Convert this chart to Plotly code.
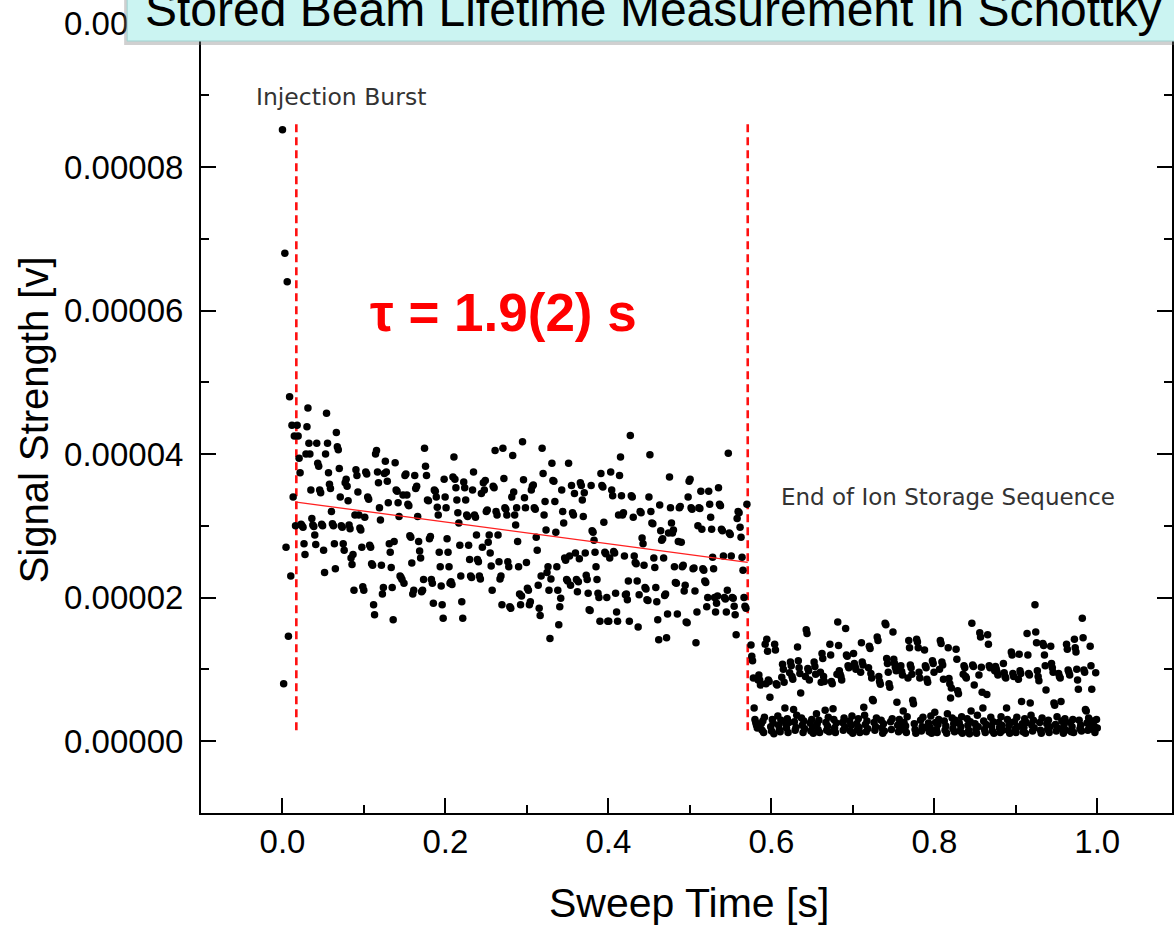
import numpy as np
import plotly.graph_objects as go

# ---------------- data (signal values in microvolts) -------------
burst_uV = [85.2, 8.0, 68.0, 27.0, 64.0, 14.6, 48.0, 23.0, 44.0, 34.0, 42.5, 30.0]

stored_uV = [
    44, 42.5, 39.4, 37.4, 30.2, 30, 29.8, 27.5, 26, 40,
    43.8, 46.4, 41.5, 40, 35, 31, 30.1, 29.9, 28.7, 27.4,
    41.5, 38.7, 38.3, 35, 34.6, 30.2, 30, 26.6, 23.5, 40,
    45.7, 41.5, 37.4, 35.8, 35.2, 32, 30.3, 30, 27.5, 24,
    43, 41, 40.6, 38, 34, 30, 29.8, 27.5, 26.6, 36,
    36.5, 35.5, 33.5, 30.1, 29.6, 25.5, 24.6, 26, 21, 31.5,
    37.8, 37, 34.7, 31.5, 29.7, 29.4, 27, 21.5, 21, 31.2,
    37.5, 37.2, 34, 33.7, 27.3, 27, 24.7, 24.5, 19, 17.6,
    40, 40.5, 37.5, 36, 32.5, 30.8, 24.5, 20.5, 21.4, 37.3,
    39, 37.5, 36.2, 33.2, 27.5, 26.3, 24.2, 21.4, 16.9, 27.8,
    38.8, 35, 34.8, 33.2, 31.3, 23, 22.8, 22.5, 34.3, 22,
    37, 37.2, 34.3, 33, 32.8, 28.6, 28.4, 24.8, 20.5, 21,
    37, 35.2, 35.5, 31.3, 27.8, 26.5, 25.5, 20.8, 21, 22.5,
    40.8, 38.3, 37, 33.6, 33.5, 28.2, 28.5, 22.5, 22, 19.2,
    35, 34.8, 34, 32.6, 31.5, 26.3, 24.3, 21.6, 19, 17.1,
    36.5, 34, 32.5, 28.2, 26.3, 24.3, 22, 22.2, 21.8, 36.8,
    39.6, 36.5, 35.3, 33.6, 31.8, 30.4, 27.3, 23, 19.4, 17.1,
    36.1, 35.3, 33.6, 31.5, 31.3, 27.3, 25.3, 23, 22.8, 35,
    37.5, 31.5, 31.2, 28.7, 25.3, 25, 23, 22.6, 34.5, 27,
    36, 35, 36.3, 32, 32.2, 27.7, 28.7, 26.2, 24.4, 21,
    35.5, 35.3, 40.5, 32, 31.5, 28.7, 25, 22.6, 23, 19,
    40.8, 36.6, 32.5, 32.3, 31.5, 25, 24.3, 18.7, 18.5, 34,
    39.8, 34.7, 31.5, 30.1, 32.5, 27.8, 24.3, 20.5, 19, 20.2,
    41.7, 36.4, 33.9, 32.5, 24.9, 21.3, 21, 19, 19.4, 35,
    35.5, 35.7, 32.5, 32.3, 28.4, 26.6, 21.7, 18.5, 17.5, 23,
    40.8, 37.3, 31.5, 33.4, 29.4, 23.5, 24.3, 21, 14.3, 22.6,
    38.7, 36.3, 36.2, 33.4, 29.1, 24.3, 21, 16.2, 18.7, 19.9,
    35, 32, 30.4, 25.5, 25.2, 22.5, 22.3, 38.7, 25.8, 21.7,
    35.6, 31.8, 31.5, 34.5, 26.2, 22.5, 20.8, 22.2, 25.4, 36,
    35.6, 33.6, 31.3, 34.6, 26.2, 23.1, 22.5, 20.6, 18.3, 18.2,
    35.6, 29.3, 29.1, 28, 26.3, 24.3, 22.5, 20.6, 20, 16.7,
    37.3, 35.6, 35.4, 30.5, 26.3, 26.1, 20, 16.7, 16.7, 25.5,
    37.5, 35, 34.2, 26.4, 26.2, 20.6, 18, 16.7, 31.5, 37,
    39.6, 34.2, 31.5, 31.8, 25.8, 20.4, 20.5, 19.7, 22.3, 16.7,
    42.6, 34.2, 34, 31.2, 25.8, 24.9, 24.7, 22.3, 15.9, 20.4,
    32, 31.8, 28.3, 27.5, 24.5, 21.4, 21.2, 19.7, 19.6, 34,
    39.9, 32, 30.4, 30.3, 25.5, 24.2, 21.4, 19.4, 16.9, 14.1,
    32.9, 29.3, 28, 28.2, 25.5, 20.3, 20.5, 14.4, 17.7, 29,
    36.8, 32.5, 30.4, 29, 29.4, 24.3, 22.1, 22, 17.7, 27.8,
    32.5, 32.7, 27.7, 24.3, 24.5, 20.9, 21.7, 16.6, 16.5, 34,
    36.2, 36.5, 32.5, 32.3, 24, 24.1, 20.9, 13.7, 18, 30,
    32.5, 32.4, 34.8, 29.5, 24, 23.8, 22.3, 22.1, 18.7, 20,
    34.8, 33, 31.2, 29.5, 25.6, 24, 20, 18, 19.2, 20.2,
    35.3, 33, 32.8, 29.5, 29.3, 25.8, 20, 19.8, 18, 21,
    40.1, 29, 28.8, 25.8, 20, 19.9, 18.8, 17.6, 14.8, 31,
    32, 31.8, 29.8, 28.4, 25.6, 23.8, 20, 18.8, 18.5, 33,
]

after_uV = [
    13.4, 11.8, 11.2, 8.8, 4.6, 3, 2.6, 2.2, 1.8, 8.5,
    9.2, 8.5, 7.8, 2.4, 1.5, 2.8, 1.2, 3.3, 13.5, 8,
    14.2, 12.5, 8.5, 8.3, 6.1, 2, 1.4, 3, 2.5, 1,
    13.5, 12.7, 8, 7.8, 3.5, 2.2, 1.6, 1.3, 2.9, 8.9,
    10.7, 10, 8.2, 4.6, 2.4, 1.8, 3.1, 1.2, 2.6, 9.5,
    11, 10.5, 9, 8.6, 4.4, 2.7, 1.5, 1.9, 3.6, 13.1,
    11.2, 10.2, 9.4, 6.7, 3.2, 2.2, 1.2, 2.8, 1.7, 9,
    15.5, 15, 10.1, 9.8, 8.5, 2.5, 1.4, 3, 2, 1.1,
    11, 10.4, 9.3, 3.8, 2.4, 1.6, 2.9, 1.2, 9.6, 8.2,
    12.2, 11.5, 9, 8.3, 4.3, 2.6, 1.5, 2.1, 3.3, 1.3,
    13.5, 12, 8.3, 8, 4.5, 3, 1.8, 1.2, 2.5, 9.3,
    16.6, 13.3, 9.8, 9.3, 9, 8.5, 2.6, 1.5, 3.2, 2,
    15.7, 12, 11.8, 10.5, 10.2, 2.8, 1.4, 2.2, 3.5, 1.1,
    12.2, 10.8, 10.4, 10, 2.4, 1.6, 3.1, 1.9, 1.2, 9.6,
    13.7, 11, 10.6, 4.7, 3.6, 2.3, 1.3, 2.8, 1.7, 10.2,
    13.2, 12.9, 9.4, 8.8, 5.8, 5.6, 2.6, 1.5, 2, 3.2,
    14.5, 14, 9, 8.3, 7.9, 2.9, 1.8, 1.1, 2.4, 1.4,
    16.4, 16.2, 11.5, 10.8, 9.6, 8, 7.5, 2.7, 1.6, 3.1,
    15.2, 11.4, 10.8, 10.3, 9.8, 5.4, 2.2, 1.3, 3, 1.8,
    10.5, 9.7, 9.2, 4.2, 2.6, 1.5, 2.1, 1.2, 3.4, 8.8,
    14, 13, 10.6, 10.2, 9.3, 5.7, 5.2, 2.4, 1.6, 1.1,
    14.2, 13.8, 13, 9.6, 8.8, 2.9, 1.4, 2, 3.3, 1.8,
    12.7, 10.5, 10.2, 8.6, 8.2, 2.5, 1.3, 1.9, 3.5, 1.1,
    11.2, 10.8, 9.6, 4, 2.6, 1.6, 1.2, 2.3, 3, 10,
    14, 13.6, 11, 10.6, 8.6, 2.8, 1.5, 2.1, 1.1, 3.8,
    13, 8.7, 8, 6, 7.4, 3.2, 1.7, 2.4, 1.3, 2.9,
    12.8, 11.4, 7, 6.6, 2.5, 1.4, 2, 3.4, 1.1, 9.3,
    10.5, 10.2, 9, 8.8, 3.1, 2.2, 1.5, 1, 2.7, 4.2,
    16.4, 10.6, 10.4, 7.8, 2.4, 1.6, 1.1, 3.6, 2, 9.2,
    15.1, 14.5, 10.3, 6.8, 4.6, 2.8, 1.6, 1.2, 2.3, 6.5,
    14.8, 13.5, 10.5, 10.2, 3.3, 2.1, 1.4, 2.7, 1.1, 9.8,
    10.4, 10, 9.6, 9.2, 2.6, 1.8, 1.2, 3.4, 2.2, 1.5,
    10.8, 9.5, 9, 8.8, 4.6, 3, 1.5, 2.2, 1.1, 2.6,
    12.4, 12, 9.4, 9, 2.7, 1.7, 1.2, 3.3, 2, 8.6,
    12.1, 9.8, 9.4, 5.5, 2.4, 1.3, 1.9, 3.1, 1.1, 2.6,
    15, 12, 9.4, 9.2, 5.3, 3.6, 2.2, 1.4, 2.9, 1.8,
    19, 15.2, 13.7, 9.8, 9, 8.4, 2.6, 1.5, 1.1, 3.2,
    13.6, 13.3, 12, 10.5, 7.1, 2.4, 1.6, 2.9, 1.2, 2,
    13.2, 10.8, 10.2, 9.6, 5.3, 5, 2.3, 1.4, 3.4, 1.8,
    9.4, 9, 8.8, 5.5, 2.8, 1.7, 1.1, 2.3, 3.1, 1.5,
    13.5, 12.8, 9.9, 9.6, 9.2, 2.6, 1.3, 2, 3, 1.2,
    14.2, 13, 12.4, 10, 8.5, 7.2, 2.9, 1.7, 2.2, 1.4,
    17.1, 14.4, 9.9, 9.6, 4.4, 4.2, 2.5, 1.5, 3.2, 1.9,
    13.2, 10.5, 7.2, 2.8, 1.6, 2.1, 1.2, 9.5, 3, 1.8,
]

# sweep-time windows of each recorded block (s)
burst_window = (0.000, 0.016)
stored_window = (0.018, 0.570)
after_window = (0.575, 1.000)

# exponential-decay fit (tau = 1.9 s) end points
fit_t = [0.017, 0.571]
fit_uV = [33.3, 24.9]

# event markers (dashed lines)
event_t = [0.017, 0.571]
event_span_uV = [1.5, 86.5]

x_ticks = [0.0, 0.2, 0.4, 0.6, 0.8, 1.0]
x_range = [-0.1, 1.0917]
y_range = [-0.00001003, 0.00010105]

UV = 1e-6

t_burst = np.linspace(*burst_window, len(burst_uV))
t_stored = np.linspace(*stored_window, len(stored_uV))
t_after = np.linspace(*after_window, len(after_uV))

t_all = np.concatenate([t_burst, t_stored, t_after])
v_all = np.concatenate([burst_uV, stored_uV, after_uV]) * UV

W, H = 1174, 925
ML, MR, MT, MB = 201, 0, 16, 112
PW, PH = W - ML - MR, H - MT - MB


def px(x):
    return (x - ML) / PW


def py(y):
    return (H - MB - y) / PH


fig = go.Figure()

# event lines
for te in event_t:
    fig.add_trace(go.Scatter(
        x=[te, te], y=[v * UV for v in event_span_uV], mode="lines",
        line=dict(color="#ff1010", width=2.6, dash="8px,5px"),
        hoverinfo="skip", showlegend=False))

# data points
fig.add_trace(go.Scatter(
    x=t_all, y=v_all, mode="markers",
    marker=dict(color="black", size=7.5, line=dict(width=0)),
    showlegend=False))

# fit line
fig.add_trace(go.Scatter(
    x=fit_t, y=[v * UV for v in fit_uV], mode="lines",
    line=dict(color="#ff2020", width=1.3), showlegend=False))

tick_font = dict(family="Liberation Sans, Arial, sans-serif", size=33, color="black")

fig.update_xaxes(
    range=x_range, tickvals=x_ticks, tickformat=".1f",
    ticks="inside", ticklen=15, tickwidth=2, tickcolor="black",
    showline=True, linewidth=2, linecolor="black", mirror="ticks",
    showgrid=False, zeroline=False, tickfont=tick_font, ticklabelstandoff=-2,
    minor=dict(dtick=0.1, tick0=0, ticks="inside", ticklen=8, tickwidth=1.5,
               tickcolor="black", showgrid=False),
)
fig.update_yaxes(
    range=y_range, dtick=0.00002, tick0=0, tickformat=".5f",
    ticks="inside", ticklen=15, tickwidth=2, tickcolor="black",
    showline=True, linewidth=2, linecolor="black", mirror="ticks",
    showgrid=False, zeroline=False, tickfont=tick_font, ticklabelstandoff=9,
    minor=dict(dtick=0.00001, tick0=0, ticks="inside", ticklen=8, tickwidth=1.5,
               tickcolor="black", showgrid=False),
)

shapes = [
    # shadow under the title box
    dict(type="rect", xref="paper", yref="paper",
         x0=px(124), x1=px(1190), y0=py(45), y1=py(-5),
         fillcolor="rgba(120,120,120,0.35)", line=dict(width=0), layer="above"),
    # title box
    dict(type="rect", xref="paper", yref="paper",
         x0=px(127), x1=px(1190), y0=py(41), y1=py(-5),
         fillcolor="#cbf4f2", line=dict(color="#9fd3d1", width=1), layer="above"),
]

annotations = [
    dict(text="Stored Beam Lifetime Measurement in Schottky", xref="paper", yref="paper",
         x=px(143), y=py(9), xanchor="left", yanchor="middle", showarrow=False,
         font=dict(family="Liberation Sans, Arial, sans-serif", size=48, color="black")),
    dict(text="Injection Burst", xref="paper", yref="paper",
         x=px(254), y=py(97), xanchor="left", yanchor="middle", showarrow=False,
         font=dict(family="DejaVu Sans, sans-serif", size=23.5, color="#333333")),
    dict(text="End of Ion Storage Sequence", xref="paper", yref="paper",
         x=px(780), y=py(497), xanchor="left", yanchor="middle", showarrow=False,
         font=dict(family="DejaVu Sans, sans-serif", size=23, color="#333333")),
    dict(text="<b>τ = 1.9(2) s</b>", xref="paper", yref="paper",
         x=px(368), y=py(312), xanchor="left", yanchor="middle", showarrow=False,
         font=dict(family="Liberation Sans, Arial, sans-serif", size=53, color="#ff0000")),
    dict(text="Signal Strength [v]", xref="paper", yref="paper",
         x=px(34), y=py(420), xanchor="center", yanchor="middle", showarrow=False,
         textangle=-90,
         font=dict(family="Liberation Sans, Arial, sans-serif", size=40, color="black")),
    dict(text="Sweep Time [s]", xref="paper", yref="paper",
         x=px(690), y=py(903), xanchor="center", yanchor="middle", showarrow=False,
         font=dict(family="Liberation Sans, Arial, sans-serif", size=41, color="black")),
]

fig.update_layout(
    width=W, height=H,
    margin=dict(l=ML, r=MR, t=MT, b=MB, pad=0),
    paper_bgcolor="white", plot_bgcolor="white",
    shapes=shapes, annotations=annotations,
    showlegend=False,
)

fig.write_html("out.html")
